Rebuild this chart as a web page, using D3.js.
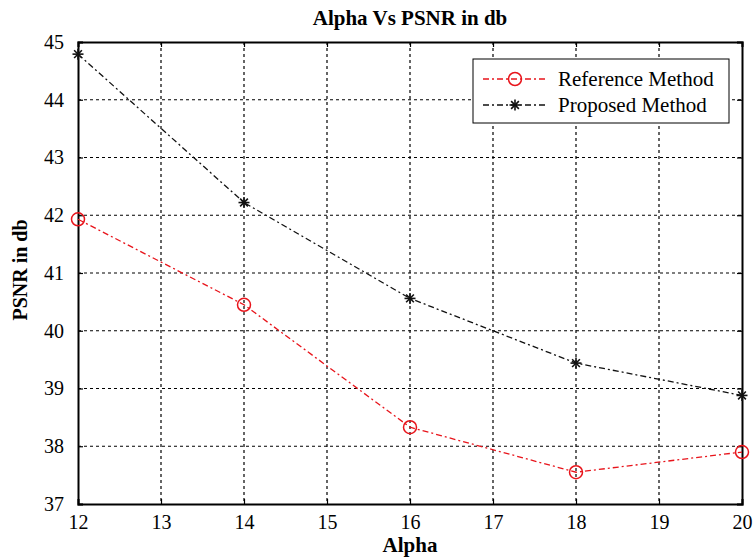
<!DOCTYPE html>
<html>
<head>
<meta charset="utf-8">
<script src="https://cdn.jsdelivr.net/npm/d3@7"></script>
<style>
body{margin:0;background:#fff;}
text{font-family:"Liberation Serif","Times New Roman",serif;}
</style>
</head>
<body>
<svg width="753" height="560"></svg>
<script>
var alpha=[12,14,16,18,20];
var refPSNR=[41.93,40.45,38.33,37.55,37.9];
var propPSNR=[44.79,42.22,40.56,39.44,38.88];
var xTicks=[12,13,14,15,16,17,18,19,20];
var yTicks=[37,38,39,40,41,42,43,44,45];
var seriesNames=["Reference Method","Proposed Method"];

var svg=d3.select("svg");
var L=78,R=742,T=42,B=504;

var x=d3.scaleLinear().domain([12,20]).range([L,R]);
var y=d3.scaleLinear().domain([37,45]).range([B,T]);

// grid
var grid=svg.append("g").attr("stroke","#000").attr("stroke-width",1.2).attr("stroke-dasharray","3,3");
xTicks.slice(1,-1).forEach(function(t){
	grid.append("line").attr("x1",x(t)).attr("x2",x(t)).attr("y1",T).attr("y2",B);
});
yTicks.slice(1,-1).forEach(function(t){
	grid.append("line").attr("x1",L).attr("x2",R).attr("y1",y(t)).attr("y2",y(t));
});

// axes (ticks inward, box)
var xb=svg.append("g").attr("transform","translate(0,"+B+")")
	.call(d3.axisBottom(x).tickValues(xTicks).tickSize(-5).tickPadding(11).tickFormat(d3.format("d")));
var xt=svg.append("g").attr("transform","translate(0,"+T+")")
	.call(d3.axisTop(x).tickValues(xTicks).tickSize(-5).tickFormat(""));
var yl=svg.append("g").attr("transform","translate("+L+",0)")
	.call(d3.axisLeft(y).tickValues(yTicks).tickSize(-5).tickPadding(14).tickFormat(d3.format("d")));
var yr=svg.append("g").attr("transform","translate("+R+",0)")
	.call(d3.axisRight(y).tickValues(yTicks).tickSize(-5).tickFormat(""));
[xb,xt,yl,yr].forEach(function(g){
	g.attr("font-family","'Liberation Serif','Times New Roman',serif").attr("font-size",20);
	g.select(".domain").attr("stroke","#000").attr("stroke-width",2);
	g.selectAll(".tick line").attr("stroke","#000").attr("stroke-width",1.2);
	g.selectAll("text").attr("fill","#000");
});

var line=d3.line().x(function(d){return x(d[0]);}).y(function(d){return y(d[1]);});
var refData=d3.zip(alpha,refPSNR);
var propData=d3.zip(alpha,propPSNR);

svg.append("path").datum(refData).attr("d",line).attr("fill","none")
	.attr("stroke","#e8141b").attr("stroke-width",1.3).attr("stroke-dasharray","6,3,2,3");
svg.append("path").datum(propData).attr("d",line).attr("fill","none")
	.attr("stroke","#111").attr("stroke-width",1.3).attr("stroke-dasharray","6,3,2,3");

function circleMark(g,cx,cy){
	g.append("circle").attr("cx",cx).attr("cy",cy).attr("r",6.5)
		.attr("fill","none").attr("stroke","#e8141b").attr("stroke-width",1.5);
}
function starMark(g,cx,cy){
	var s=5.5;
	for(var i=0;i<4;i++){
		var a=i*Math.PI/4;
		g.append("line").attr("x1",cx-s*Math.cos(a)).attr("y1",cy-s*Math.sin(a))
			.attr("x2",cx+s*Math.cos(a)).attr("y2",cy+s*Math.sin(a))
			.attr("stroke","#111").attr("stroke-width",1.6);
	}
}
var marks=svg.append("g");
refData.forEach(function(d){circleMark(marks,x(d[0]),y(d[1]));});
propData.forEach(function(d){starMark(marks,x(d[0]),y(d[1]));});

// title and labels
svg.append("text").attr("x",410).attr("y",25).attr("text-anchor","middle")
	.attr("font-size",21).attr("font-weight","bold").text("Alpha Vs PSNR in db");
svg.append("text").attr("x",410).attr("y",552).attr("text-anchor","middle")
	.attr("font-size",21).attr("font-weight","bold").text("Alpha");
svg.append("text").attr("transform","translate(27,270) rotate(-90)")
	.attr("text-anchor","middle").attr("font-size",20).attr("font-weight","bold").text("PSNR in db");

// legend
var lg=svg.append("g");
lg.append("rect").attr("x",473).attr("y",59).attr("width",256).attr("height",64)
	.attr("fill","#fff").attr("stroke","#000").attr("stroke-width",1);
var legColors=["#e8141b","#111"];
seriesNames.forEach(function(n,i){
	var ly=79+i*26;
	lg.append("line").attr("x1",483).attr("x2",548).attr("y1",ly).attr("y2",ly)
		.attr("stroke",legColors[i]).attr("stroke-width",1.3).attr("stroke-dasharray","6,3,2,3");
	if(i==0) circleMark(lg,515,ly); else starMark(lg,515,ly);
	lg.append("text").attr("x",558).attr("y",ly+7).attr("font-size",21).text(n);
});
</script>
</body>
</html>
